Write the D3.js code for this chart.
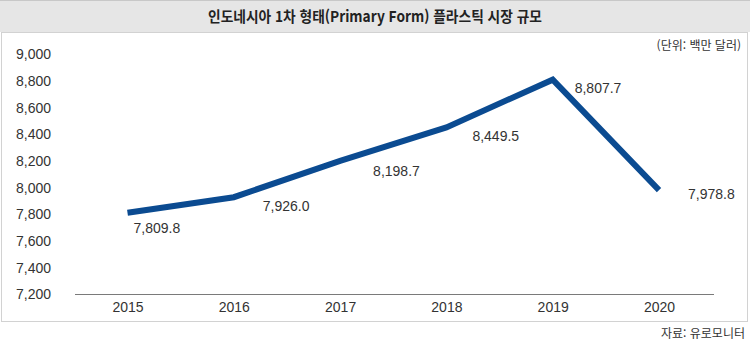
<!DOCTYPE html>
<html lang="ko">
<head>
<meta charset="utf-8">
<script src="https://cdn.jsdelivr.net/npm/d3@7/dist/d3.min.js"></script>
<style>
  html, body { margin: 0; padding: 0; background: #ffffff; }
  svg { display: block; }
  text { font-family: "Liberation Sans", Arial, "Noto Sans CJK KR", sans-serif; }
</style>
</head>
<body>
<svg id="chart" width="750" height="342"></svg>
<script>
// Indonesia primary-form plastics market size (USD million)
const years = ["2015", "2016", "2017", "2018", "2019", "2020"];
const marketSize = [7809.8, 7926.0, 8198.7, 8449.5, 8807.7, 7978.8];
const yTicks = [7200, 7400, 7600, 7800, 8000, 8200, 8400, 8600, 8800, 9000];

const titleText = "인도네시아 1차 형태(Primary Form) 플라스틱 시장 규모";
const unitText = "(단위: 백만 달러)";
const sourceText = "자료: 유로모니터";

// Per-label nudges (dx: left edge offset from point, dy: baseline offset)
const labelNudge = [[6, 20], [29, 14], [33, 15], [26, 13.5], [22, 13], [29, 9]];

const svg = d3.select("#chart");
const W = 750, H = 342;
const kFont = "\"Noto Sans CJK KR\", \"Liberation Sans\", sans-serif";

// title bar
svg.append("rect").attr("x", 0).attr("y", 0).attr("width", W).attr("height", 32)
  .attr("fill", "#e6e6e6");
svg.append("line").attr("x1", 0).attr("x2", W).attr("y1", 0.5).attr("y2", 0.5)
  .attr("stroke", "#c8c8c8");
svg.append("text").attr("x", 208).attr("y", 22)
  .attr("textLength", 334).attr("lengthAdjust", "spacingAndGlyphs")
  .style("font-family", kFont).style("font-size", "15px").style("font-weight", "700")
  .attr("fill", "#222").text(titleText);

// chart frame
svg.append("rect").attr("x", 1.5).attr("y", 32.5).attr("width", W - 4).attr("height", 289)
  .attr("fill", "#fff").attr("stroke", "#d2d2d2").attr("stroke-width", 1);

const x = d3.scalePoint().domain(years).range([127.5, 659]);
const y = d3.scaleLinear().domain([7200, 9000]).range([294, 54]);

// y axis labels
const yAxis = d3.axisLeft(y).tickValues(yTicks).tickSize(0).tickPadding(0)
  .tickFormat(d3.format(","));
svg.append("g").attr("transform", "translate(51,0)").call(yAxis)
  .call(g => g.select(".domain").remove())
  .call(g => g.selectAll("text").attr("fill", "#333").style("font-size", "14px")
    .attr("dy", "0.35em"));

// x axis baseline and labels
const xAxis = d3.axisBottom(x).tickSize(0).tickPadding(8);
const gx = svg.append("g").attr("transform", "translate(0,294)").call(xAxis);
gx.select(".domain").remove();
gx.selectAll("text").attr("fill", "#333").style("font-size", "14px").attr("dy", "0.71em");
svg.append("line").attr("x1", 75).attr("x2", 714).attr("y1", 294.5).attr("y2", 294.5)
  .attr("stroke", "#7a7a7a").attr("stroke-width", 1.2);

// unit note
svg.append("text").attr("x", 741).attr("y", 50).attr("text-anchor", "end")
  .style("font-family", kFont).style("font-size", "12px").attr("fill", "#333").text(unitText);

// series line
const pts = years.map((yr, i) => [x(yr), y(marketSize[i])]);
svg.append("path").attr("d", d3.line()(pts))
  .attr("fill", "none").attr("stroke", "#0b4b91").attr("stroke-width", 6)
  .attr("stroke-linejoin", "miter").attr("stroke-linecap", "butt");

// value labels
const fmt = d3.format(",.1f");
svg.append("g").selectAll("text").data(marketSize).join("text")
  .attr("x", (d, i) => x(years[i]) + labelNudge[i][0])
  .attr("y", (d, i) => y(d) + labelNudge[i][1])
  .style("font-size", "14px").attr("fill", "#333")
  .text(d => fmt(d));

// source note
svg.append("text").attr("x", 745).attr("y", 338).attr("text-anchor", "end")
  .style("font-family", kFont).style("font-size", "12px").attr("fill", "#333").text(sourceText);
</script>
</body>
</html>
